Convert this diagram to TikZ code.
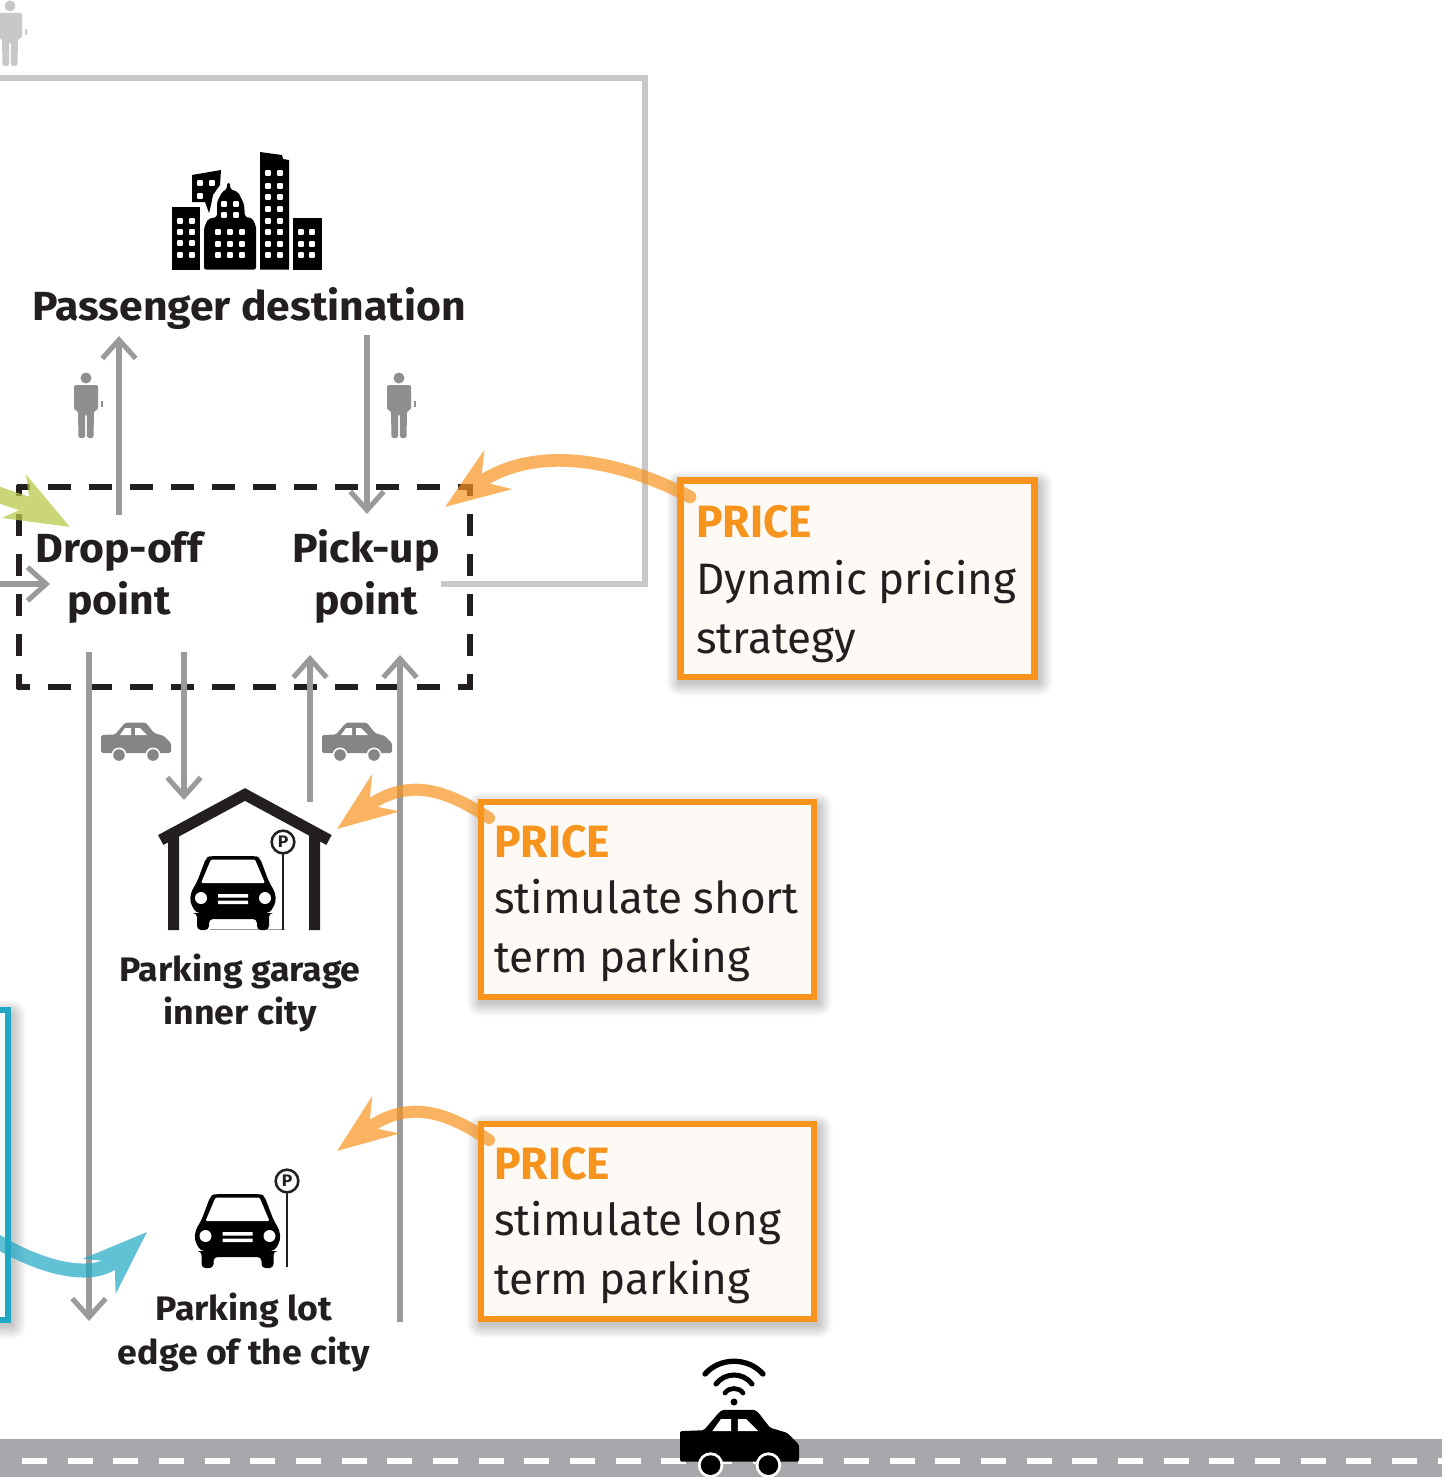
\documentclass[tikz,border=0pt]{standalone}
\usepackage{fontspec}
\usetikzlibrary{arrows.meta,calc}
\setmainfont{Fira Sans}
\newfontfamily\boldlab{Fira Sans}[UprightFont=*-Bold,FakeStretch=1.05]
\newfontfamily\headlab{Fira Sans}[UprightFont=*-Bold,FakeStretch=0.98]
\newfontfamily\lightlab{Fira Sans}[FakeStretch=1.0]
\definecolor{inkc}{HTML}{231F20}
\definecolor{arrowgray}{HTML}{9A9A9A}
\definecolor{persongray}{HTML}{8E8F8F}
\definecolor{framegray}{HTML}{C8C8C8}
\definecolor{cargray}{HTML}{848685}
\definecolor{roadgray}{HTML}{A7A8AB}
\definecolor{priceorange}{HTML}{F7941E}
\definecolor{boxcream}{HTML}{FDFAF5}
\definecolor{tealc}{HTML}{1FA7C4}
\definecolor{limec}{HTML}{B9C94A}
\tikzset{
  x=0.75pt,y=-0.75pt,
  grayarrow/.style={draw=arrowgray,line width=4.4pt,-{Straight Barb[length=14pt,width=25pt,line width=3.8pt]}},
  frameline/.style={draw=framegray,line width=3.8pt,miter limit=10},
  dashH/.style={draw=inkc,line width=3.9pt,dash pattern=on 17.25pt off 13.5pt,dash phase=7.1pt},
  dashV/.style={draw=inkc,line width=3.9pt,dash pattern=on 16.5pt off 13.5pt,dash phase=8.25pt},
  pricebox/.style={draw=priceorange,fill=boxcream,line width=4.8pt,rectangle,inner sep=0pt,outer sep=0pt,anchor=north west},
  pricehead/.style={anchor=base west,inner sep=0pt,text=priceorange,font=\headlab\fontsize{34}{34}\selectfont},
  pricetext/.style={anchor=base west,inner sep=0pt,text=inkc,font=\lightlab\fontsize{33}{33}\selectfont},
  biglabel/.style={anchor=base,inner sep=0pt,text=inkc,font=\boldlab\fontsize{30.5}{30.5}\selectfont},
  smalllabel/.style={anchor=base,inner sep=0pt,text=inkc,font=\boldlab\fontsize{25.5}{25.5}\selectfont},
  signnode/.style={circle,draw=inkc,fill=white,line width=1.9pt,minimum size=17pt,inner sep=0pt,font=\boldlab\fontsize{12.5}{12.5}\selectfont,text=inkc},
  pricearrow/.style={draw=priceorange,line width=9.5pt,line cap=round,-{Stealth[length=48pt,width=35pt,inset=15pt]}},
  pricearrowsmall/.style={draw=priceorange,line width=9pt,line cap=round,-{Stealth[length=45pt,width=34pt,inset=15pt]}},
  limearrow/.style={draw=limec,line width=12pt,-{Stealth[length=47pt,width=36pt,inset=13pt]}},
  tealarrow/.style={draw=tealc,line width=10.5pt,-{Stealth[length=48pt,width=35pt,inset=15pt]}},
  glass/.style={transparency group,opacity=#1},
}
% soft shadow round a rectangle given by its corners
\newcommand{\softshadow}[4]{%
  \foreach \s in {1,...,14}{%
    \fill[black,opacity=.014,rounded corners=\s*0.75pt] (#1-\s,#2-\s+4) rectangle (#3+\s+4,#4+\s+5);}}
\newcommand{\wins}[2]{\foreach \wx in {#1}{\foreach \wy in {#2}{%
  \fill[white,rounded corners=.6pt] (\wx-2.8,\wy-2.8) rectangle (\wx+2.8,\wy+2.8);}}}
\newcommand{\personicon}[3]{%
  \begin{scope}[shift={(#1,#2)}]
    \fill[#3] (0,0) circle (5.5);
    \fill[#3,rounded corners=1.5pt] (-12,32) -- (-12,7) -- (12,7) -- (12,32) -- (8.5,32) -- (8,34) -- (7.5,60) -- (1,60) -- (0.8,36) -- (-0.8,36) -- (-1,60) -- (-7.5,60) -- (-8,34) -- (-8.5,32) -- cycle;
    \fill[#3] (15,23) rectangle (16.5,29);
  \end{scope}}
\newcommand{\sedanicon}[4]{%
  \begin{scope}[shift={(#1,#2)},scale=#3]
    \fill[#4,rounded corners=1.2pt] (0,13) -- (14,12.5) -- (23,2) -- (25,0.5) -- (44,0.5) -- (46,2) -- (53,11) -- (63,14) -- (70,21) -- (70,31) -- (0,31) -- cycle;
    \fill[white] (19,13) -- (24,6) -- (30,6) -- (30,13) -- cycle (34,6) -- (39,6) -- (46,13) -- (34,13) -- cycle;
    \fill[white] (18,33) circle (7.5) (52,33) circle (7.5);
    \fill[#4] (18,33) circle (5.8) (52,33) circle (5.8);
  \end{scope}}
\newcommand{\frontcar}[2]{%
  \begin{scope}[shift={(#1,#2)}]
    \fill[black,rounded corners=3pt] (-23,0) -- (23,0) -- (27,2) -- (36,26) -- (42,36) -- (43,46) -- (37,57) -- (36,57) -- (36,74) -- (24,74) -- (24,63) -- (-24,63) -- (-24,74) -- (-36,74) -- (-36,57) -- (-37,57) -- (-43,46) -- (-42,36) -- (-36,26) -- (-27,2) -- cycle;
    \fill[white,rounded corners=1pt] (-22,3.5) -- (22,3.5) -- (32,27) -- (-32,27) -- cycle;
    \fill[white] (-32,42) circle (6) (32,42) circle (6);
    \fill[white] (-15,38) rectangle (15,41.5) (-15,44.5) rectangle (15,48);
  \end{scope}}
\begin{document}
\begin{tikzpicture}
\clip (0,0) rectangle (1442,1477);
\fill[white] (0,0) rectangle (1442,1477);
% ---- road
\fill[roadgray] (0,1439) rectangle (1442,1477);
\coordinate (roadA) at (22,1461); \coordinate (roadB) at (1442,1461);
\draw[white,line width=4.6pt,dash pattern=on 18.75pt off 15.5pt] (roadA) -- (roadB);
% ---- top person and grey loop
\personicon{10}{6}{framegray}
\coordinate (frA) at (-5,78); \coordinate (frB) at (645,78); \coordinate (frC) at (645,584); \coordinate (frD) at (441,584);
\draw[frameline] (frA) -- (frB) -- (frC) -- (frD);
% ---- city
\fill[black] (172,207) rectangle (200,269.5);
\wins{180,192}{221,232,243,255}
\fill[black] (192,175) -- (221,170) -- (220,185) -- (213,195) -- (211,205) -- (209,213) -- (205,202) -- (192,202) -- cycle;
\wins{200,212}{183}\wins{200}{196}
\fill[black,rounded corners=1.5pt] (204,269.5) -- (204,228) -- (208,219) -- (217,217) -- (217,202) -- (222,192) -- (227,189) -- (227,183) -- (230,183) -- (230,189) -- (238,192) -- (244,204) -- (245,217) -- (252,218) -- (256,226) -- (256,269.5) -- cycle;
\wins{218,230,242}{232,244,255}\wins{224,236}{204,215}
\fill[black] (260,152) -- (282,155) -- (283,159) -- (289,160) -- (289,269.5) -- (260,269.5) -- cycle;
\wins{268,280}{173,186,197,209,221,232,244,255}
\fill[black] (293,218) rectangle (322,269.5);
\wins{301,312}{232,244,255}
\node[biglabel] (dest) at (249,320) {Passenger destination};
% ---- walking arrows
\coordinate (upA) at (119,515); \coordinate (upB) at (119,336);
\coordinate (downA) at (367,335); \coordinate (downB) at (367,514);
\draw[grayarrow] (upA) -- (upB);
\draw[grayarrow] (downA) -- (downB);
\personicon{86}{378}{persongray}
\personicon{399}{378}{persongray}
% ---- vertical road arrows
\coordinate (dropA) at (89,652); \coordinate (dropB) at (89,1321);
\coordinate (parkA) at (184,652); \coordinate (parkB) at (184,800);
\coordinate (leaveA) at (310,802); \coordinate (leaveB) at (310,655);
\coordinate (lotA) at (400,1322); \coordinate (lotB) at (400,655);
\coordinate (entryA) at (-5,584); \coordinate (entryB) at (50,584);
% ---- dashed zone
\coordinate (zA) at (16.5,487); \coordinate (zB) at (472.5,487);
\coordinate (zC) at (16.5,687); \coordinate (zD) at (472.5,687);
\coordinate (zE) at (19,485); \coordinate (zF) at (19,689);
\coordinate (zG) at (470,485); \coordinate (zH) at (470,689);
\draw[dashH] (zA) -- (zB);
\draw[dashH] (zC) -- (zD);
\draw[dashV] (zE) -- (zF);
\draw[dashV] (zG) -- (zH);
\draw[grayarrow] (dropA) -- (dropB);
\draw[grayarrow] (parkA) -- (parkB);
\draw[grayarrow] (leaveA) -- (leaveB);
\draw[grayarrow] (lotA) -- (lotB);
\draw[grayarrow] (entryA) -- (entryB);
\node[biglabel] (dropl) at (119,562) {Drop-off};
\node[biglabel] (dropm) at (119,614) {point};
\node[biglabel] (pickl) at (366,562) {Pick-up};
\node[biglabel] (pickm) at (366,614) {point};
\sedanicon{101}{722}{1}{cargray}
\sedanicon{322}{722}{1}{cargray}
% ---- garage
\draw[inkc,line width=8.4pt,miter limit=10] (160.7,840) -- (245,794.5) -- (329,840);
\fill[inkc] (168,832) rectangle (179,930) (309,832) rectangle (320,930);
\draw[arrowgray,line width=.9pt] (210,929.5) -- (285,929.5);
\frontcar{233}{856}
\draw[inkc,line width=1.9pt] (283,852) -- (283,930);
\node[signnode] (signA) at (283,842) {P};
\node[smalllabel] (garl) at (240,981) {Parking garage};
\node[smalllabel] (garm) at (240,1024) {inner city};
% ---- lot
\frontcar{237.5}{1194}
\draw[inkc,line width=1.9pt] (287,1191) -- (287,1267);
\node[signnode] (signB) at (287,1181) {P};
\node[smalllabel] (lotl) at (244,1320) {Parking lot};
\node[smalllabel] (lotm) at (244,1364) {edge of the city};
% ---- teal box and arrow
\softshadow{-100}{1010}{8}{1320}
\node[draw=tealc,fill=tealc!4,line width=4.5pt,rectangle,inner sep=0pt,outer sep=0pt,anchor=north west,minimum width=81pt,minimum height=232.5pt] (tealbox) at (-100,1010) {};
\coordinate (tealA) at (-5,1240); \coordinate (tealTip) at (147,1232);
\begin{scope}[glass=.7]
\draw[tealarrow] (tealA) .. controls (30,1262) and (90,1285) .. (tealTip);
\end{scope}
% ---- lime arrow
\coordinate (limeA) at (-12,491); \coordinate (limeTip) at (70,527);
\begin{scope}[glass=.75]
\draw[limearrow] (limeA) .. controls (10,499) and (30,505) .. (limeTip);
\end{scope}
% ---- price boxes
\softshadow{680.5}{480.5}{1034.5}{677}
\softshadow{481}{802}{814}{997}
\softshadow{481}{1124}{814}{1319}
\node[pricebox,minimum width=265.5pt,minimum height=147.4pt] (pb1) at (680.5,480.5) {};
\node[pricehead] (pb1h) at (696,537.5) {PRICE};
\node[pricetext] (pb1a) at (696,594.5) {Dynamic pricing};
\node[pricetext] (pb1b) at (696,653.5) {strategy};
\node[pricebox,minimum width=249.75pt,minimum height=146.25pt] (pb2) at (481,802) {};
\node[pricehead] (pb2h) at (494,857.5) {PRICE};
\node[pricetext] (pb2a) at (494,913.5) {stimulate short};
\node[pricetext] (pb2b) at (494,972.5) {term parking};
\node[pricebox,minimum width=249.75pt,minimum height=146.25pt] (pb3) at (481,1124) {};
\node[pricehead] (pb3h) at (494,1179.5) {PRICE};
\node[pricetext] (pb3a) at (494,1235.5) {stimulate long};
\node[pricetext] (pb3b) at (494,1294.5) {term parking};
% ---- orange arrows
\coordinate (tip1) at (445,507);
\coordinate (tip2) at (337,829);
\coordinate (tip3) at (337,1151);
\begin{scope}[glass=.7]
\draw[pricearrow] ([shift={(9.5,16.5)}]pb1.north west) .. controls +(-60,-32) and (540,440) .. (tip1);
\end{scope}
\begin{scope}[glass=.7]
\draw[pricearrowsmall] ([shift={(8,16)}]pb2.north west) .. controls +(-40,-26) and (410,775) .. (tip2);
\end{scope}
\begin{scope}[glass=.7]
\draw[pricearrowsmall] ([shift={(8,16)}]pb3.north west) .. controls +(-40,-26) and (410,1097) .. (tip3);
\end{scope}
% ---- connected car
\draw[black,line width=4pt,line cap=round] (705,1374) .. controls (720,1357) and (748,1357) .. (763,1374);
\draw[black,line width=3.8pt,line cap=round] (716,1384) .. controls (725,1372) and (743,1372) .. (752,1384);
\draw[black,line width=3.5pt,line cap=round] (725,1393) .. controls (729,1387) and (739,1387) .. (743,1393);
\fill[black] (734,1402) circle (3.5);
\sedanicon{680}{1409}{1.7}{black}
\end{tikzpicture}
\end{document}
